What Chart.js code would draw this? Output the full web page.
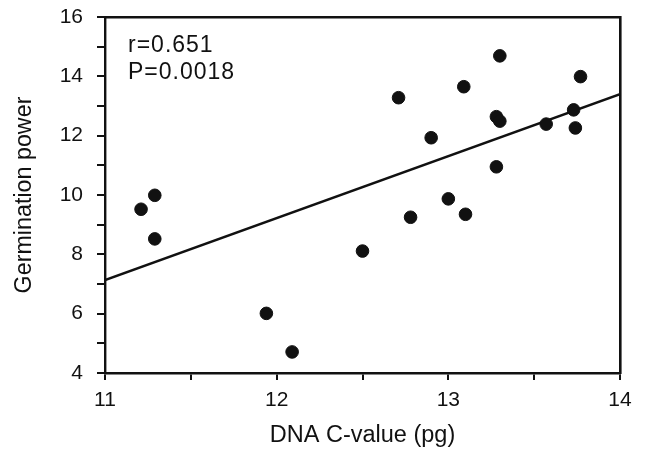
<!DOCTYPE html>
<html>
<head>
<meta charset="utf-8">
<script src="https://cdn.jsdelivr.net/npm/chart.js@4"></script>
<style>
  html, body { margin: 0; padding: 0; background: #fff; }
  #wrap { width: 646px; height: 453px; }
</style>
</head>
<body>
<div id="wrap"><canvas id="scatter"></canvas></div>
<script>
// values
const cValues = [11.21, 11.29, 11.29, 11.94, 12.09, 12.50, 12.71, 12.78, 12.90, 13.00,
                 13.09, 13.10, 13.30, 13.28, 13.30, 13.28, 13.57, 13.73, 13.74, 13.77];
const germination = [9.52, 9.99, 8.52, 6.01, 4.71, 8.11, 13.28, 9.25, 11.93, 9.87,
                     13.65, 9.35, 14.69, 12.64, 12.49, 10.95, 12.39, 12.87, 12.26, 13.99];
const fitX = [11, 14];
const fitY = [7.13, 13.40];
const statLines = ['r=0.651', 'P=0.0018'];
const xLabels = ['11', '12', '13', '14'];

const FONT = 'Liberation Sans';
const INK = '#111';

const points = cValues.map((x, i) => ({ x: x, y: germination[i] }));
const fitLine = fitX.map((x, i) => ({ x: x, y: fitY[i] }));

// r / P text in the upper left corner
const statsText = {
    id: 'statsText',
    afterDraw(chart) {
        const ctx = chart.ctx;
        const area = chart.chartArea;
        ctx.save();
        ctx.fillStyle = INK;
        ctx.font = '23px "' + FONT + '"';
        ctx.letterSpacing = '1px';
        ctx.textBaseline = 'middle';
        statLines.forEach((t, i) => {
            ctx.fillText(t, area.left + 23, area.top + 29 + i * 27);
        });
        ctx.restore();
    }
};

new Chart(document.getElementById('scatter'), {
    type: 'scatter',
    data: {
        datasets: [{
            label: 'samples',
            data: points,
            backgroundColor: INK,
            borderColor: INK,
            pointRadius: 6.3,
            pointHoverRadius: 6.3
        }, {
            type: 'line',
            label: 'fit',
            data: fitLine,
            borderColor: INK,
            borderWidth: 2.4,
            pointRadius: 0,
            fill: false
        }]
    },
    options: {
        responsive: true,
        maintainAspectRatio: false,
        animation: false,
        layout: { padding: { top: 17, right: 26, left: 0, bottom: 0 } },
        plugins: {
            legend: { display: false },
            tooltip: { enabled: false }
        },
        scales: {
            x: {
                type: 'linear',
                position: 'bottom',
                min: 11,
                max: 14,
                afterFit: (s) => { s.height = 80; s.paddingLeft = 0; s.paddingRight = 0; },
                border: { display: true, color: INK, width: 2.4 },
                grid: { drawOnChartArea: false, drawTicks: true, tickLength: 7, color: INK, lineWidth: 2 },
                ticks: {
                    stepSize: 0.5,
                    autoSkip: false,
                    maxRotation: 0,
                    padding: 8,
                    color: INK,
                    font: { family: FONT, size: 21 },
                    callback: (v) => Number.isInteger(v) ? xLabels[v - 11] : ''
                },
                title: {
                    display: true,
                    text: 'DNA C-value (pg)',
                    color: INK,
                    font: { family: FONT, size: 23.5 },
                    padding: { top: 0, bottom: 3 }
                }
            },
            y: {
                type: 'linear',
                position: 'left',
                min: 4,
                max: 16,
                afterFit: (s) => { s.width = 105; s.paddingTop = 0; s.paddingBottom = 0; },
                border: { display: true, color: INK, width: 2.4 },
                grid: { drawOnChartArea: false, drawTicks: true, tickLength: 8, color: INK, lineWidth: 2 },
                ticks: {
                    stepSize: 1,
                    autoSkip: false,
                    padding: 14,
                    color: INK,
                    font: { family: FONT, size: 21 },
                    callback: (v) => v % 2 === 0 ? String(v) : ''
                },
                title: {
                    display: true,
                    text: 'Germination power',
                    color: INK,
                    font: { family: FONT, size: 23.3 },
                    padding: { top: 11, bottom: 0 }
                }
            },
            xTop: {
                type: 'linear',
                position: 'top',
                min: 11,
                max: 14,
                afterFit: (s) => { s.height = 0; s.paddingLeft = 0; s.paddingRight = 0; },
                border: { display: true, color: INK, width: 2.4 },
                grid: { display: false },
                ticks: { display: false }
            },
            yRight: {
                type: 'linear',
                position: 'right',
                min: 4,
                max: 16,
                afterFit: (s) => { s.width = 0; s.paddingTop = 0; s.paddingBottom = 0; },
                border: { display: true, color: INK, width: 2.6 },
                grid: { display: false },
                ticks: { display: false }
            }
        }
    },
    plugins: [statsText]
});
</script>
</body>
</html>
